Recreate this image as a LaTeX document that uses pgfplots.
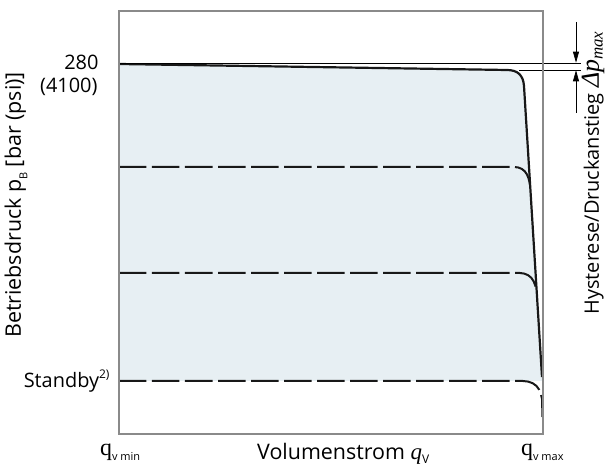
\documentclass[border=0pt]{standalone}
\usepackage{pgfplots}
\pgfplotsset{compat=1.18}
\usetikzlibrary{arrows.meta}
\usepackage{fontspec}
\setmainfont{Open Sans}
\newfontfamily\serif{Liberation Serif}
\definecolor{bandfill}{RGB}{231,239,243}
\definecolor{framegray}{RGB}{138,138,138}
\definecolor{ink}{RGB}{24,24,24}
\newcommand\lbl{\fontsize{20}{24}\selectfont}
\newcommand\biglbl{\fontsize{21.5}{24}\selectfont}
\newcommand\sub[1]{\raisebox{-0.3em}{\fontsize{11}{11}\selectfont #1}}

\begin{document}
\begin{tikzpicture}
\begin{axis}[
  width=424bp, height=423bp, scale only axis,
  xmin=0, xmax=424, ymin=0, ymax=423,
  xtick=\empty, ytick=\empty,
  axis line style={draw=framegray, line width=1.1bp},
  clip=false, axis on top,
]
% pressure band
\addplot [draw=none, fill=bandfill] coordinates {
  (0,370) (388,364) (391.8,363.75) (395.1,363.0) (397.9,361.75) (400.3,360)
  (402.1,357.75) (403.6,355) (404.5,351.75) (405,348) (423,57) (423,53) (0,53)} -- cycle;

% max pressure curve
\addplot [ink, line width=2.2bp, line join=round] coordinates {
  (0,370) (388,364) (391.8,363.75) (395.1,363.0) (397.9,361.75) (400.3,360)
  (402.1,357.75) (403.6,355) (404.5,351.75) (405,348) (423,57)};

% lower settings, dashed
\addplot [ink, line width=2bp, dash pattern=on 27.5bp off 5.5bp] coordinates {
  (0,267) (395,267) (399.3,266.5) (402.9,265) (405.7,262.75) (407.8,259.75)
  (409.4,256) (410.5,251.7) (411,249)};
\addplot [ink, line width=2bp, dash pattern=on 27.5bp off 5.5bp] coordinates {
  (0,161) (401,161) (405.3,160.4) (409.2,158.75) (412.3,156.2) (414.6,152.75)
  (416.3,148.3) (417.6,143)};
\addplot [ink, line width=2bp, dash pattern=on 27.5bp off 5.5bp] coordinates {
  (0,53) (404,53) (409.2,52.4) (413.8,50.75) (417.5,48) (420.2,44.25)
  (422,39.5) (423,35) (423.5,17)};

% hysteresis marks
\addplot [black, line width=0.7bp] coordinates {(0,371) (462,371)};
\addplot [black, line width=0.7bp] coordinates {(400,364) (462,364)};
\addplot [black, line width=0.7bp, -{Triangle[length=11bp,width=6bp]}] coordinates {(457,412) (457,371.3)};
\addplot [black, line width=0.7bp, -{Triangle[length=11bp,width=6bp]}] coordinates {(457,321) (457,363.7)};

% labels
\node [anchor=east, font=\lbl] at (axis cs:-17,372) {280};
\node [anchor=east, font=\lbl] at (axis cs:-18,347) {(4100)};
\node [anchor=east, font=\lbl] at (axis cs:-6,53) {Standby\raisebox{0.45em}{\fontsize{12}{12}\selectfont 2)}};
\node [rotate=90, font=\biglbl] at (axis cs:-103,229) {Betriebsdruck p\sub{B} [bar (psi)]};
\node [rotate=90, font=\lbl, inner sep=1bp] at (axis cs:474,261) {Hysterese/Druckanstieg {\serif\itshape\fontsize{26}{26}\selectfont Δp\raisebox{-0.15em}{\fontsize{17}{17}\selectfont max}}};
\node [anchor=base west, inner sep=0pt, font=\lbl] at (axis cs:-19,-21) {{\serif\fontsize{24}{24}\selectfont q}\sub{v min}};
\node [anchor=base west, inner sep=0pt, font=\biglbl] at (axis cs:138,-25) {Volumenstrom {\serif\itshape\fontsize{23}{24}\selectfont q}\raisebox{-0.2em}{\fontsize{12}{12}\selectfont V}};
\node [anchor=base west, inner sep=0pt, font=\lbl] at (axis cs:402,-21) {{\serif\fontsize{24}{24}\selectfont q}\sub{v max}};

\coordinate (bl) at (axis cs:-119,-33);
\coordinate (tr) at (axis cs:491,434);
\end{axis}
\pgfresetboundingbox
\path (bl) rectangle (tr);
\end{tikzpicture}
\end{document}
